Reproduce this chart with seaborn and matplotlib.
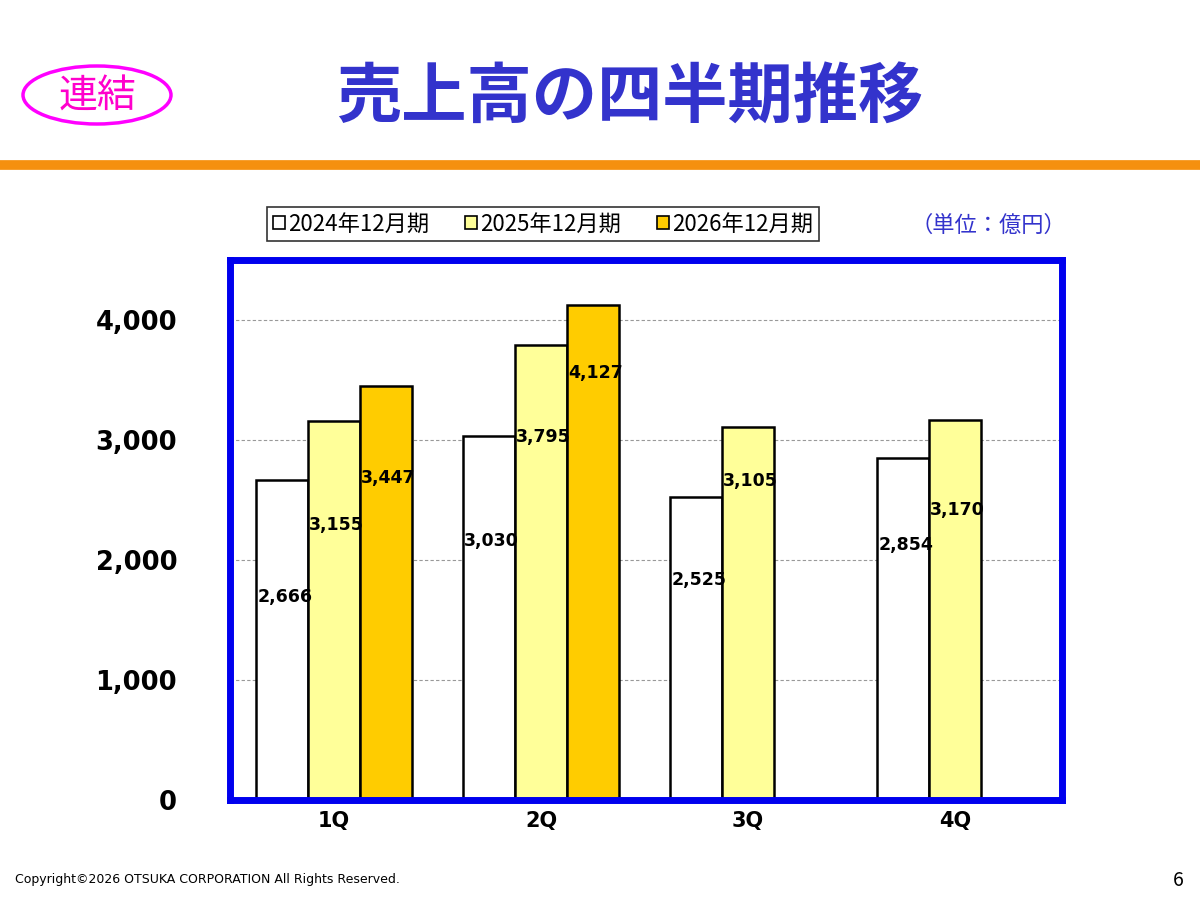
import matplotlib
matplotlib.use("Agg")
import matplotlib.pyplot as plt
import seaborn as sns
import pandas as pd
import numpy as np
from matplotlib.patches import Ellipse, Patch

quarters = ["1Q", "2Q", "3Q", "4Q"]
series = ["2024年12月期", "2025年12月期", "2026年12月期"]
v2024 = [2666, 3030, 2525, 2854]
v2025 = [3155, 3795, 3105, 3170]
v2026 = [3447, 4127, np.nan, np.nan]
label_y = {  # label vertical anchors (data units) as in the reference
    "2024年12月期": [1690, 2158, 1833, 2125],
    "2025年12月期": [2290, 3025, 2658, 2417],
    "2026年12月期": [2683, 3558, np.nan, np.nan],
}
colors = ["#ffffff", "#ffff99", "#ffcc00"]

sns.set_theme(style="white")
plt.rcParams['font.family'] = ['Noto Sans CJK JP', 'DejaVu Sans']
plt.rcParams['text.color'] = 'black'
plt.rcParams['xtick.color'] = 'black'
plt.rcParams['ytick.color'] = 'black'

rows = []
for s, vals in zip(series, [v2024, v2025, v2026]):
    for q, v in zip(quarters, vals):
        rows.append({"q": q, "s": s, "v": v})
df = pd.DataFrame(rows)

fig = plt.figure(figsize=(12, 8.99), dpi=100)
ax = fig.add_axes([230/1200, 99/899, 832/1200, 540/899])
sns.barplot(data=df, x="q", y="v", hue="s", palette=colors, width=0.75,
            edgecolor="black", linewidth=1.8, ax=ax, legend=False, saturation=1)
ax.set_ylim(0, 4500)
ax.set_xlim(-0.502, 3.517)
ax.set_yticks([0, 1000, 2000, 3000, 4000])
ax.set_yticklabels(["0", "1,000", "2,000", "3,000", "4,000"], fontsize=18.5, fontweight="bold", fontfamily="DejaVu Sans")
ax.set_xticklabels(quarters, fontsize=15, fontweight="bold", fontfamily="DejaVu Sans")
ax.tick_params(axis="y", pad=38, length=0)
ax.tick_params(axis="x", pad=8, length=0)
ax.set_xlabel(""); ax.set_ylabel("")
ax.yaxis.grid(True, linestyle=(0, (3, 2)), color="#999999", linewidth=0.8)
ax.set_axisbelow(True)
for sp in ax.spines.values():
    sp.set_color("#0000ee"); sp.set_linewidth(5)

for cont, s in zip(ax.containers, series):
    for bar, v, ly in zip(cont, df[df.s == s].v, label_y[s]):
        if np.isnan(v):
            continue
        ax.text(bar.get_x() + 0.005, ly, f"{int(v):,}", ha="left", va="center",
                fontsize=12.5, fontweight="bold", fontfamily="DejaVu Sans")

# Title area
fig.text(630/1200, 1 - 97/899, "売上高の四半期推移", ha="center", va="center",
         fontsize=47, fontweight="bold", color="#3333cc")
fig.patches.append(Ellipse((97/1200, 1 - 95/899), 148/1200, 58/899, transform=fig.transFigure,
                           facecolor="white", edgecolor="#ff00ff", linewidth=2.5))
fig.text(97/1200, 1 - 97/899, "連結", ha="center", va="center", fontsize=28, color="#ff00cc")
fig.add_artist(plt.Line2D([0, 1], [1 - 165/899] * 2, color="#f5900f", linewidth=7, transform=fig.transFigure))

# Legend
handles = [Patch(facecolor=c, edgecolor="black", linewidth=1.2) for c in colors]
leg = fig.legend(handles, series, loc="center", bbox_to_anchor=(543/1200, 1 - 224/899), ncol=3,
                 frameon=True, fancybox=False, edgecolor="black", fontsize=16,
                 handlelength=0.55, handleheight=0.55, handletextpad=0.15, columnspacing=1.6,
                 borderpad=0.25, borderaxespad=0)
leg.get_frame().set_linewidth(1.2)
fig.text(988/1200, 1 - 225/899, "（単位：億円）", ha="center", va="center", fontsize=16, color="#3333cc")

fig.text(15/1200, 1 - 880/899, "Copyright©2026 OTSUKA CORPORATION All Rights Reserved.", ha="left",
         va="center", fontsize=9, fontfamily="DejaVu Sans")
fig.text(1178/1200, 1 - 881/899, "6", ha="center", va="center", fontsize=14)

fig.savefig("out.png", dpi=100)
